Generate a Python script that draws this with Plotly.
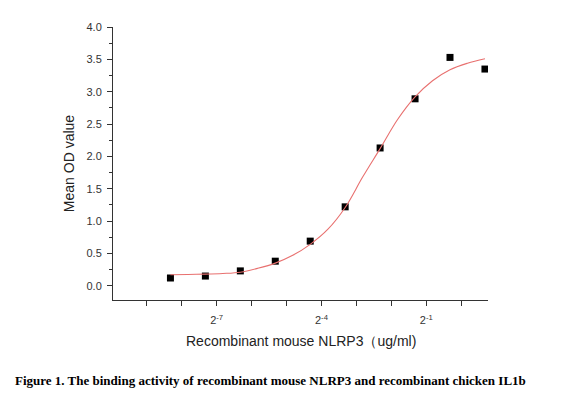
import plotly.graph_objects as go

# measured points (ug/ml vs mean OD)
conc = [0.003125, 0.00625, 0.0125, 0.025, 0.05, 0.1, 0.2, 0.4, 0.8, 1.6]
od_value = [0.12, 0.15, 0.23, 0.38, 0.69, 1.22, 2.13, 2.89, 3.53, 3.35]

# fitted curve
fit_conc = [0.003125, 0.004419, 0.00625, 0.008839, 0.0125, 0.017678, 0.025, 0.035355,
            0.05, 0.070711, 0.1, 0.141421, 0.2, 0.282843, 0.4, 0.565685, 0.8, 1.131371, 1.6]
fit_od = [0.17, 0.175, 0.18, 0.19, 0.21, 0.27, 0.35, 0.47, 0.64, 0.87,
          1.21, 1.68, 2.12, 2.57, 2.92, 3.17, 3.34, 3.44, 3.51]

label_tickvals = [2 ** -7, 2 ** -4, 2 ** -1]
label_ticktext = ['2<sup>-7</sup>', '2<sup>-4</sup>', '2<sup>-1</sup>']
all_tickvals = [2 ** -9, 2 ** -8, 2 ** -7, 2 ** -6, 2 ** -5, 2 ** -4, 2 ** -3, 2 ** -2, 2 ** -1, 1]
y_tickvals = [0.0, 0.5, 1.0, 1.5, 2.0, 2.5, 3.0, 3.5, 4.0]

axis_color = '#333333'
x_range = [-3.0, 0.2304]

fig = go.Figure()
fig.add_trace(go.Scatter(x=fit_conc, y=fit_od, mode='lines', xaxis='x2',
                         line=dict(color='#e8706f', width=1.1, shape='spline'),
                         showlegend=False, hoverinfo='skip'))
fig.add_trace(go.Scatter(x=conc, y=od_value, mode='markers',
                         marker=dict(symbol='square', size=7, color='black'), showlegend=False))

fig.update_layout(
    width=575, height=402,
    margin=dict(l=105, r=95, t=19, b=110),
    paper_bgcolor='white', plot_bgcolor='white',
    font=dict(family='Liberation Sans, Arial', color='#222222'),
    xaxis=dict(type='log', range=x_range, showgrid=False, zeroline=False,
               showline=True, linecolor=axis_color, linewidth=1,
               ticks='', tickvals=label_tickvals, ticktext=label_ticktext,
               ticklabelstandoff=10, tickfont=dict(size=11, color='#333333')),
    xaxis2=dict(type='log', range=x_range, overlaying='x', anchor='y', side='bottom',
                showgrid=False, zeroline=False, showline=False, showticklabels=False,
                ticks='outside', ticklen=5, tickcolor=axis_color, tickvals=all_tickvals),
    yaxis=dict(range=[-0.22, 4.0], showgrid=False, zeroline=False,
               showline=True, linecolor=axis_color, linewidth=1,
               ticks='outside', ticklen=5, tickcolor=axis_color,
               tickvals=y_tickvals, tickformat='.1f', ticklabelstandoff=3,
               tickfont=dict(size=11, color='#333333'),
               minor=dict(ticks='outside', ticklen=3, dtick=0.25, tick0=0, tickcolor=axis_color),
               title=dict(text='Mean OD value', font=dict(size=14), standoff=8)),
)

fig.add_annotation(text='Recombinant mouse NLRP3（ug/ml)', xref='paper', yref='paper',
                   x=0.5, y=-0.15, yanchor='middle', showarrow=False,
                   font=dict(size=14, color='#222222'))
fig.add_annotation(text='<b>Figure 1. The binding activity of recombinant mouse NLRP3 and recombinant chicken IL1b</b>',
                   xref='paper', yref='paper', x=-0.266, xanchor='left', y=-0.295, yanchor='middle',
                   showarrow=False, font=dict(family='Liberation Serif, Times New Roman', size=13, color='black'))

fig.write_html("out.html")
